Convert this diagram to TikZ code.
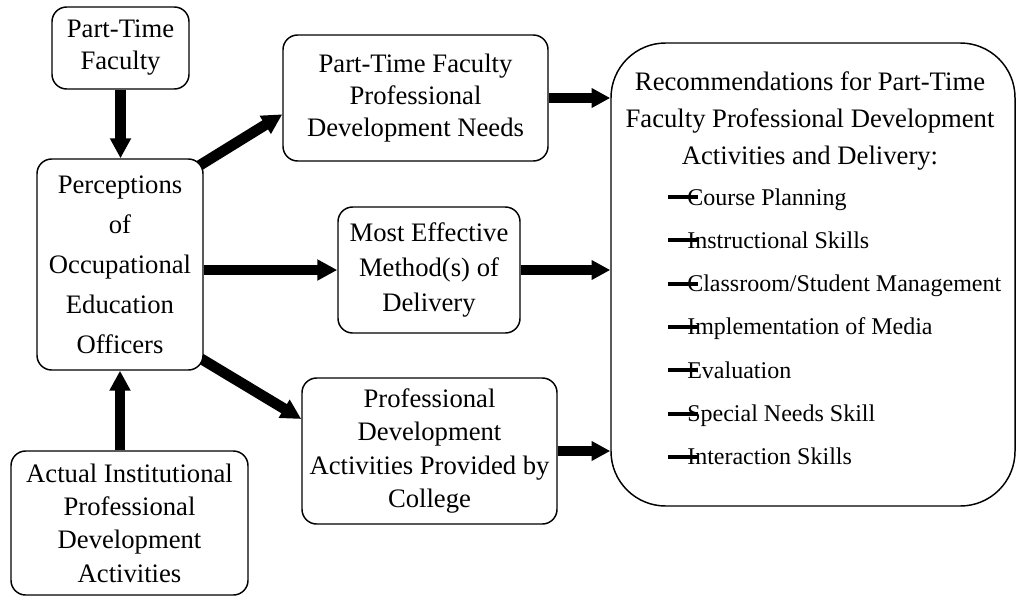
\documentclass[tikz,border=0pt]{standalone}
\usepackage{fontspec}
\setmainfont{Liberation Serif}
\usetikzlibrary{arrows.meta,calc,backgrounds}
\newlength\px \setlength\px{0.75pt}
\begin{document}
\begin{tikzpicture}[x=0.75pt,y=-0.75pt,
    box/.style={draw,line width=1.1pt,rounded corners=11pt,fill=white,align=center,inner sep=0pt,font=\fontsize{20}{24}\selectfont},
    arr/.style={line width=8pt,-{Triangle[length=15pt,width=15pt]}},
    harr/.style={line width=7pt,-{Triangle[length=14pt,width=14pt]}},
    skill/.style={anchor=base west,inner sep=0pt,font=\fontsize{18}{20}\selectfont},
    dashmark/.style={line width=3pt}]
  \useasboundingbox (0,0) rectangle (1016,596);
  % left column
  \node[box,minimum width=137\px,minimum height=82\px] (ptf) at (120.5,48) {Part-Time\\Faculty};
  \node[box,minimum width=166\px,minimum height=211\px,font=\fontsize{20}{30}\selectfont] (poe) at (120,264.5) {Perceptions\\of\\Occupational\\Education\\Officers};
  \node[box,minimum width=237\px,minimum height=144\px,font=\fontsize{20}{25}\selectfont] (act) at (129.5,523) {Actual Institutional\\Professional\\Development\\Activities};
  % middle column
  \node[box,minimum width=265\px,minimum height=126\px] (ptn) at (415.5,98) {Part-Time Faculty\\Professional\\Development Needs};
  \node[box,minimum width=182\px,minimum height=126\px,font=\fontsize{20}{26}\selectfont] (meth) at (429,270) {Most Effective\\Method(s) of\\Delivery};
  \node[box,minimum width=255\px,minimum height=146\px,font=\fontsize{20}{25}\selectfont] (pdc) at (429.5,451) {Professional\\Development\\Activities Provided by\\College};
  % recommendations
  \node[box,rounded corners=41pt,minimum width=404\px,minimum height=463\px] (rec) at (813,274.5) {};
  \node[align=center,inner sep=0pt,font=\fontsize{20}{27.5}\selectfont] (head) at (810,121) {Recommendations for Part-Time\\Faculty Professional Development\\Activities and Delivery:};
  \foreach \t [count=\i] in {Course Planning, Instructional Skills, Classroom/Student Management, Implementation of Media, Evaluation, Special Needs Skill, Interaction Skills} {
    \node[skill] (skill\i) at (687,{161.7+43.3*\i}) {\t};
    \draw[dashmark] ([xshift=-14pt,yshift=6pt]skill\i.base west) -- ++(22pt,0);
  }
  % arrows
  \begin{scope}[on background layer]
    \draw[arr] (ptf.south) -- (ptf.south |- poe.north);
    \draw[arr] (poe.south |- act.north) -- (poe.south);
    \draw[arr] ($(poe.north east)+(-12,12)$) -- (ptn.187);
    \draw[arr] (poe.east |- meth.west) -- (meth.west);
    \draw[arr] ($(poe.south east)+(-6,-14)$) -- ($(pdc.west)+(0,-32)$);
    \draw[harr] (ptn.east) -- (ptn.east -| rec.west);
    \draw[harr] (meth.east) -- (meth.east -| rec.west);
    \draw[harr] (pdc.east) -- (pdc.east -| rec.west);
  \end{scope}
\end{tikzpicture}
\end{document}
